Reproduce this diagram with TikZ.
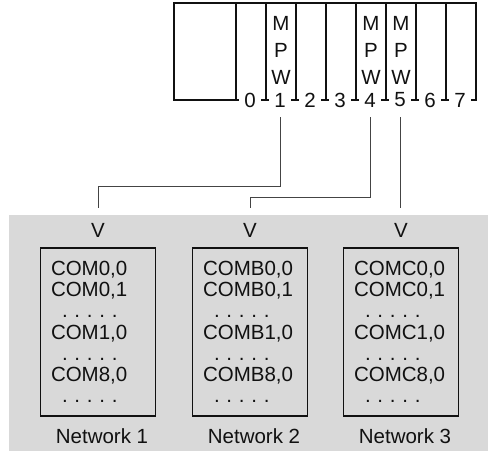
\documentclass[tikz,border=0pt]{standalone}
\usepackage{fontspec}
\setmainfont{Liberation Sans}
\usepackage{xcolor}
\usepackage{tikz}
\definecolor{panel}{HTML}{D9D9D9}
\definecolor{ink}{HTML}{111111}
\definecolor{wire}{HTML}{444444}
\newcommand{\dotrow}{\hspace*{11pt}.\hspace{6.8pt}.\hspace{6.8pt}.\hspace{6.8pt}.\hspace{6.8pt}.}
\tikzset{
  lab/.style={text=ink, font=\fontsize{20.5}{21.2}\selectfont, inner sep=0pt},
  slotlab/.style={lab, fill=white, inner xsep=5pt},
  mpw/.style={lab, align=center, font=\fontsize{20.5}{27}\selectfont},
  rackLine/.style={line width=1.3pt, draw=ink},
  listbox/.style={lab, draw=ink, line width=1.3pt, text width=94pt, inner xsep=10.5pt, align=left, minimum height=168pt},
  link/.style={draw=wire, line width=1pt, shorten <=10pt, shorten >=14.6pt}
}

\begin{document}
\begin{tikzpicture}[x=1pt, y=-1pt]
  \useasboundingbox (0,0) rectangle (488,451);

  % Panel
  \fill[panel] (9,215) rectangle (488,451);

  % Rack
  \draw[rackLine] (174,3) rectangle (476,100);
  \foreach \x in {236,266,...,446}
    \draw[rackLine] (\x,3) -- (\x,100);
  \foreach \i in {0,...,7}
    \node[slotlab] (s\i) at (250+30*\i,100) {\i};
  \foreach \i in {1,4,5}
    \node[mpw] (m\i) at (251+30*\i,50) {M\\P\\W};

  % Networks
  \foreach \pfx/\cx/\n in {COM/98/1, COMB/250/2, COMC/401/3} {
    \node[lab] (v\n) at (\cx,230) {V};
    \node[listbox] (list\n) at (\cx,332) {\pfx0,0\\\pfx0,1\\\dotrow\\\pfx1,0\\\dotrow\\\pfx8,0\\\dotrow};
    \node[lab] (net\n) at (\cx+4,436) {Network \n};
  }

  % Links
  \coordinate (bend1) at (98,186);
  \coordinate (bend4) at (250,197);
  \draw[link] (s1.south) |- (bend1) -- (v1.north);
  \draw[link] (s4.south) |- (bend4) -- (v2.north);
  \draw[link] (s5.south) -- (s5.south |- v3.north);
\end{tikzpicture}
\end{document}
